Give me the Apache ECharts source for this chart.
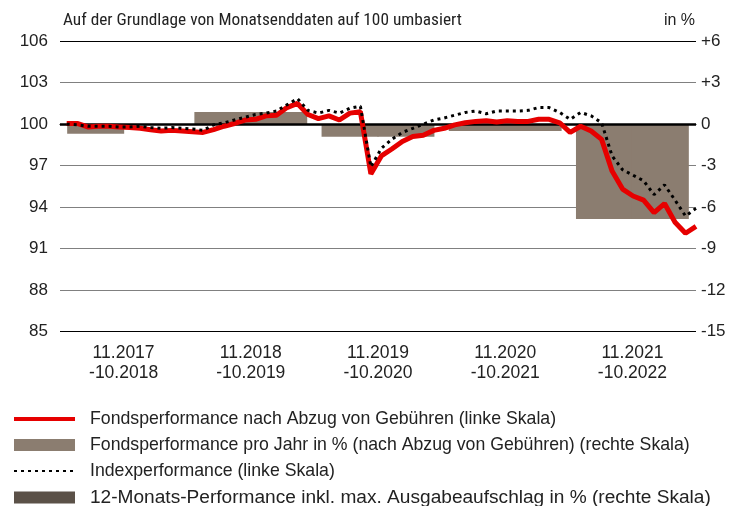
<!DOCTYPE html>
<html>
<head>
<meta charset="utf-8">
<script src="https://cdn.jsdelivr.net/npm/echarts@6/dist/echarts.min.js"></script>
<style>
html,body{margin:0;padding:0;background:#fff;}
#c{width:732px;height:506px;}
</style>
</head>
<body>
<div id="c"></div>
<script>
// Period categories (x axis)
const periods = ['11.2017\n-10.2018','11.2018\n-10.2019','11.2019\n-10.2020','11.2020\n-10.2021','11.2021\n-10.2022'];
// Annual fund performance in % (right scale)
const annualPerf = [-0.7, 0.88, -0.92, -0.5, -6.87];
// Monthly fund performance, rebased to 100 (left scale), 10.2017 .. 10.2022
const fundPerf = [100.05,100.05,99.8,99.85,99.85,99.8,99.75,99.7,99.6,99.5,99.55,99.5,99.45,
  99.4,99.6,99.85,100.05,100.3,100.35,100.6,100.65,101.2,101.5,100.7,100.4,
  100.6,100.3,100.8,100.9,96.4,97.7,98.2,98.75,99.1,99.2,99.55,99.7,
  99.95,100.1,100.2,100.25,100.15,100.25,100.2,100.2,100.35,100.35,100.1,99.4,
  99.85,99.5,98.9,96.6,95.3,94.8,94.5,93.6,94.25,92.9,92.1,92.6];
// Monthly index performance, rebased to 100 (left scale)
const indexPerf = [100.0,99.95,99.85,99.85,99.85,99.8,99.8,99.85,99.75,99.7,99.75,99.7,99.65,
  99.55,99.95,100.1,100.3,100.5,100.7,100.8,100.95,101.4,101.85,101.0,100.8,
  101.0,100.8,101.15,101.3,96.9,98.25,98.9,99.4,99.7,100.0,100.3,100.45,
  100.65,100.85,100.95,100.75,100.95,100.95,100.95,101.0,101.2,101.2,100.85,100.35,
  100.85,100.6,100.1,97.7,96.7,96.3,95.9,94.9,95.6,94.5,93.35,93.9];
// Tick labels
const leftTicks = {min:85, max:106, interval:3};
const rightTicks = {min:-15, max:6, interval:3};

const names = {
  fund: 'Fondsperformance nach Abzug von Gebühren (linke Skala)',
  annual: 'Fondsperformance pro Jahr in % (nach Abzug von Gebühren) (rechte Skala)',
  index: 'Indexperformance (linke Skala)',
  twelve: '12-Monats-Performance inkl. max. Ausgabeaufschlag in % (rechte Skala)'
};

const FONT_N = "'Liberation Sans Narrow','Roboto Condensed','DejaVu Sans Condensed',sans-serif";
const FONT = "'Liberation Sans',Arial,sans-serif";
const TXT = '#222';
const BAR = '#8b7d70';
const DARK = '#5b5148';
const GRID = '#808080';

const chart = echarts.init(document.getElementById('c'), null, {renderer:'canvas'});

// left half / right half of annual bars (first period only covers left half)
const barLeft = annualPerf.slice();
const barRight = annualPerf.map((v,i)=> i===0 ? '-' : v);

chart.setOption({
  animation:false,
  textStyle:{fontFamily:FONT},
  title:[
    {text:'Auf der Grundlage von Monatsenddaten auf 100 umbasiert', left:63, top:12, padding:0,
     textStyle:{fontFamily:FONT_N,fontSize:17.3,fontWeight:'normal',color:TXT}},
    {text:'in %', right:37, top:13, padding:0,
     textStyle:{fontFamily:FONT,fontSize:16,fontWeight:'normal',color:TXT}}
  ],
  grid:{left:60, right:36, top:41.3, bottom:174.7, containLabel:false},
  legend:{
    orient:'vertical', left:12, top:410, height:140, width:720, padding:0,
    itemWidth:61, itemHeight:12, itemGap:8,
    textStyle:{fontFamily:FONT,fontSize:17.7,color:TXT,lineHeight:16,padding:[0,0,0,10]},
    data:[
      {name:names.fund, itemStyle:{opacity:0}, lineStyle:{width:4}},
      {name:names.annual, icon:'rect'},
      {name:names.index, itemStyle:{opacity:0}},
      {name:names.twelve, icon:'rect', textStyle:{fontSize:19.1, lineHeight:16}}
    ],
    selectedMode:false
  },
  xAxis:[
    {type:'category', data:periods, boundaryGap:true,
     axisLine:{show:true, lineStyle:{color:'#000', width:1}},
     axisTick:{show:false},
     axisLabel:{color:TXT, fontFamily:FONT, fontSize:17.5, lineHeight:20, margin:12},
     splitLine:{show:false}},
    {type:'value', min:-0.64, max:60, show:false}
  ],
  yAxis:[
    {type:'value', min:leftTicks.min, max:leftTicks.max, interval:leftTicks.interval,
     axisLine:{show:false}, axisTick:{show:false},
     axisLabel:{color:TXT, fontFamily:FONT, fontSize:17, margin:12},
     splitLine:{show:true, lineStyle:{width:1, color:['#000',GRID,GRID,GRID,GRID,GRID,GRID,'#000']}}},
    {type:'value', min:rightTicks.min, max:rightTicks.max, interval:rightTicks.interval,
     position:'right',
     axisLine:{show:false}, axisTick:{show:false},
     axisLabel:{color:TXT, fontFamily:FONT, fontSize:17, margin:5,
       formatter:v => v>0 ? '+'+v : String(v)},
     splitLine:{show:false}}
  ],
  series:[
    {name:names.fund, type:'line', xAxisIndex:1, yAxisIndex:0, z:3,
     data:fundPerf.map((v,i)=>[i,v]), symbol:'none', showSymbol:false,
     lineStyle:{color:'#e60000', width:5}, itemStyle:{color:'#e60000'}},
    {name:names.annual, type:'bar', xAxisIndex:0, yAxisIndex:1, z:1,
     data:barLeft, barWidth:57, barGap:'-2%',
     itemStyle:{color:BAR},
     markLine:{silent:true, symbol:'none', label:{show:false},
       lineStyle:{color:'#000', width:2.5, type:'solid'},
       data:[{yAxis:0}], z:2}},
    {name:names.annual, type:'bar', xAxisIndex:0, yAxisIndex:1, z:1,
     data:barRight, barWidth:57, barGap:'-2%',
     itemStyle:{color:BAR}},
    {name:names.index, type:'line', xAxisIndex:1, yAxisIndex:0, z:4,
     data:indexPerf.map((v,i)=>[i,v]), symbol:'none', showSymbol:false,
     lineStyle:{color:'#000', width:3, type:[3,4]}, itemStyle:{color:'#000'}},
    {name:names.twelve, type:'bar', xAxisIndex:1, yAxisIndex:1, data:[],
     itemStyle:{color:DARK}}
  ]
});
</script>
</body>
</html>
